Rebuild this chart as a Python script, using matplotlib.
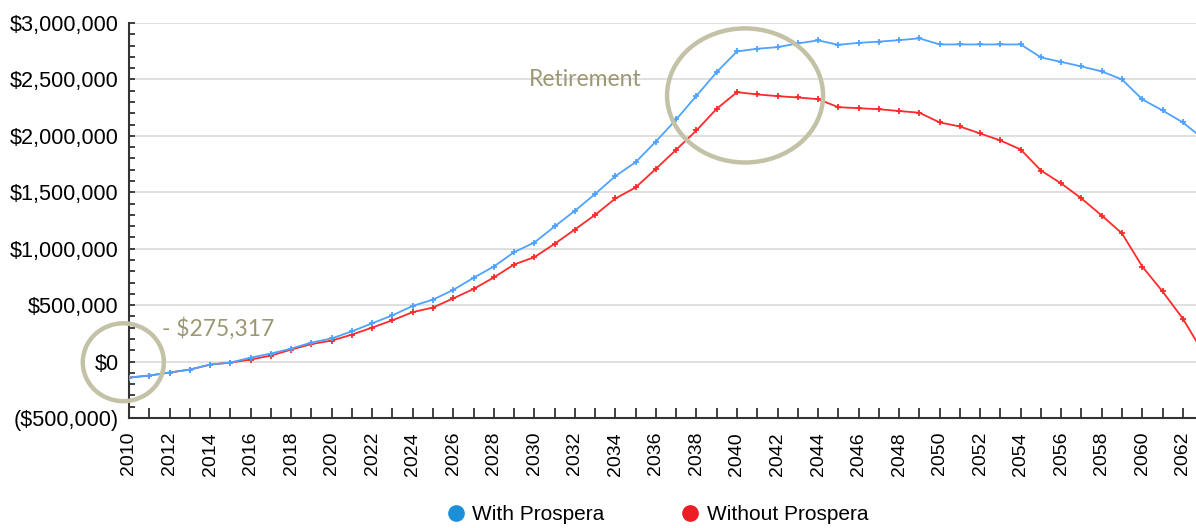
import numpy as np
from matplotlib import pyplot as plt
from matplotlib.lines import Line2D
from matplotlib.patches import Ellipse
from matplotlib.ticker import FixedLocator, MultipleLocator, FuncFormatter

years = list(range(2010, 2064))

# thousands of dollars
with_prospera = [-142, -124, -97, -71, -27, -9, 35, 71, 115, 168,
                 205, 268, 339, 410, 493, 549, 635, 742, 842, 969,
                 1055, 1197, 1336, 1485, 1643, 1767, 1950, 2145, 2355, 2565,
                 2748, 2772, 2786, 2819, 2846, 2807, 2824, 2835, 2848, 2864,
                 2810, 2810, 2810, 2810, 2810, 2695, 2655, 2615, 2571, 2500,
                 2323, 2225, 2119, 1975]
without_prospera = [-142, -124, -97, -71, -27, -9, 18, 53, 106, 155,
                    186, 239, 301, 366, 438, 479, 560, 643, 745, 860,
                    925, 1043, 1170, 1300, 1445, 1543, 1708, 1877, 2048, 2240,
                    2387, 2367, 2352, 2340, 2325, 2254, 2245, 2236, 2220, 2205,
                    2119, 2083, 2021, 1959, 1879, 1693, 1578, 1445, 1294, 1135,
                    842, 621, 381, 80]

series_labels = ['With Prospera', 'Without Prospera']
line_colors = ['#4da3ff', '#ff2a2a']
legend_colors = ['#1b8fd8', '#ee1c25']
note_color = '#9c9873'
circle_color = '#c3c1a6'

plt.rcParams['font.family'] = ['Liberation Sans', 'DejaVu Sans']

fig = plt.figure(figsize=(11.96, 5.28), dpi=100)
ax = fig.add_axes([129 / 1196, 1 - 418 / 528, 1 - 129 / 1196, (418 - 23) / 528])

# red first so the blue line sits on top where they overlap
ax.plot(years, np.array(without_prospera) * 1000, color=line_colors[1], lw=1.3, marker='+',
        markersize=4, markeredgewidth=1.3, zorder=3)
ax.plot(years, np.array(with_prospera) * 1000, color=line_colors[0], lw=1.3, marker='+',
        markersize=4, markeredgewidth=1.3, zorder=3)

ax.set_xlim(2010, 2062.65)
ax.set_ylim(-500000, 3000000)

# axes styling
for side in ['top', 'right']:
    ax.spines[side].set_visible(False)
for side in ['left', 'bottom']:
    ax.spines[side].set_color('#333333')
    ax.spines[side].set_linewidth(1.5)

ax.yaxis.set_major_locator(MultipleLocator(500000))
ax.yaxis.set_minor_locator(MultipleLocator(100000))


def money(v, pos):
    if v < 0:
        return '(${:,.0f})'.format(-v)
    return '${:,.0f}'.format(v)


ax.yaxis.set_major_formatter(FuncFormatter(money))
ax.xaxis.set_major_locator(FixedLocator(list(range(2010, 2063, 2))))
ax.xaxis.set_minor_locator(MultipleLocator(1))
ax.tick_params(axis='y', which='both', direction='in', length=4, width=1.3, color='#333333',
               labelsize=15.6, pad=7.5)
ax.tick_params(axis='x', which='both', direction='in', length=7, width=1.3, color='#333333',
               labelsize=14, labelrotation=90, pad=10)
ax.grid(axis='y', color='#dddddd', lw=1.3)
ax.set_axisbelow(True)

# annotation circles
ax.add_patch(Ellipse((2040.4, 2358000), 7.7, 1188000, fill=False, ec=circle_color, lw=3.2,
                     zorder=4))
ax.add_patch(Ellipse((2009.72, -6000), 4.0, 690000, fill=False, ec=circle_color, lw=3.2,
                     zorder=4, clip_on=False))
ax.text(2029.75, 2500000, 'Retirement', color=note_color, fontsize=16.5, family='Lato',
        va='center', ha='left')
ax.text(2011.65, 293000, '- $275,317', color=note_color, fontsize=16.5, family='Lato',
        va='center', ha='left')

handles = [Line2D([], [], ls='none', marker='o', markersize=11, color=c) for c in legend_colors]
fig.legend(handles, series_labels, loc='lower center', bbox_to_anchor=(0.549, -0.028), ncol=2,
           frameon=False, fontsize=15, handletextpad=0.3, columnspacing=3.6, handlelength=1.0)

fig.savefig('out.png', dpi=100)
